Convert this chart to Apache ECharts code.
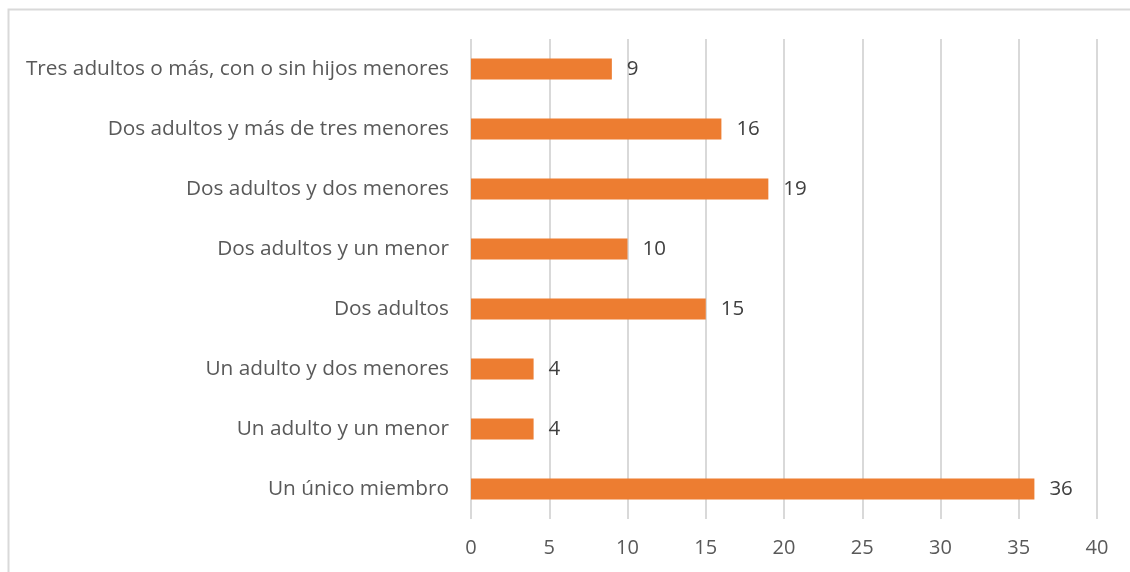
<!DOCTYPE html>
<html lang="es">
<head>
    <meta charset="UTF-8">
    <title>Tipo de hogar</title>
    <style>
        html, body { margin: 0; padding: 0; background: #fff; }
        #main { width: 1130px; height: 572px; }
    </style>
    <script src="https://cdn.jsdelivr.net/npm/echarts@6/dist/echarts.min.js"></script>
</head>
<body>
    <div id="main"></div>
    <script>
        // categorías de abajo hacia arriba (eje de categorías en ECharts empieza abajo)
        var categories = [
            'Un único miembro',
            'Un adulto y un menor',
            'Un adulto y dos menores',
            'Dos adultos',
            'Dos adultos y un menor',
            'Dos adultos y dos menores',
            'Dos adultos y más de tres menores',
            'Tres adultos o más, con o sin hijos menores'
        ];
        var values = [36, 4, 4, 15, 10, 19, 16, 9];
        var xTicks = [0, 5, 10, 15, 20, 25, 30, 35, 40];

        var chart = echarts.init(document.getElementById('main'));
        var font = '"Open Sans", "Noto Sans", sans-serif';

        var option = {
            animation: false,
            textStyle: { fontFamily: font },
            graphic: [
                {
                    type: 'polyline',
                    silent: true,
                    shape: { points: [[8.5, 600], [8.5, 9.5], [1130, 9.5]] },
                    style: { stroke: '#d9d9d9', lineWidth: 2, fill: null }
                }
            ],
            grid: {
                left: 471,
                right: 33,
                top: 39,
                bottom: 53
            },
            xAxis: {
                type: 'value',
                min: xTicks[0],
                max: xTicks[xTicks.length - 1],
                interval: 5,
                axisLine: { show: false },
                axisTick: { show: false },
                axisLabel: {
                    color: '#595959',
                    fontSize: 20,
                    fontFamily: font,
                    margin: 19
                },
                splitLine: {
                    lineStyle: { color: '#d9d9d9', width: 2 }
                }
            },
            yAxis: {
                type: 'category',
                data: categories,
                axisLine: { show: false },
                axisTick: { show: false },
                axisLabel: {
                    color: '#595959',
                    fontSize: 20.8,
                    fontFamily: font,
                    margin: 22
                }
            },
            series: [
                {
                    type: 'bar',
                    data: values,
                    barWidth: 21,
                    itemStyle: { color: '#ed7d31' },
                    label: {
                        show: true,
                        position: 'right',
                        distance: 15,
                        color: '#404040',
                        fontSize: 20.5,
                        fontFamily: font
                    }
                }
            ]
        };
        chart.setOption(option);
    </script>
</body>
</html>
